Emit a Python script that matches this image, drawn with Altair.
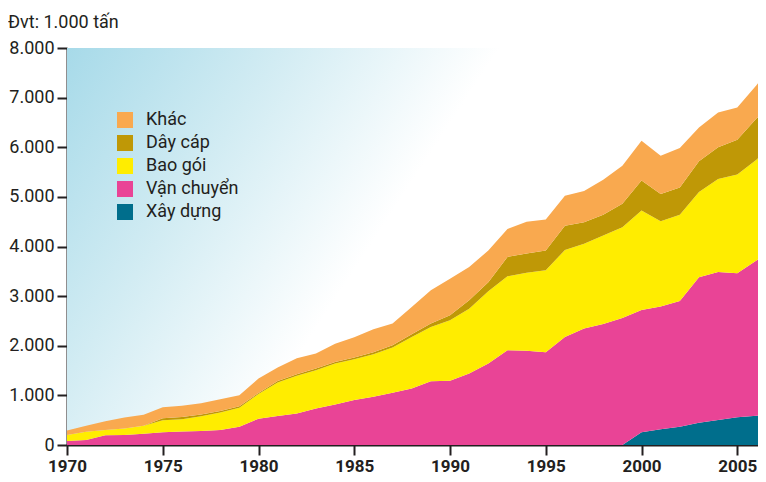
import altair as alt
import pandas as pd

# Years (x positions of the data points)
years = [1970, 1971, 1972, 1973, 1974, 1975, 1976, 1977, 1978, 1979,
         1980, 1981, 1982, 1983, 1984, 1985, 1986, 1987, 1988, 1989,
         1990, 1991, 1992, 1993, 1994, 1995, 1996, 1997, 1998, 1999,
         2000, 2001, 2002, 2003, 2004, 2005, 2006, 2006.5]

# Layer values (1.000 tấn), per category
xay_dung = [0, 0, 0, 0, 0, 0, 0, 0, 0, 0,
            0, 0, 0, 0, 0, 0, 0, 0, 0, 0,
            0, 0, 0, 0, 0, 0, 0, 0, 0, 0,
            255, 316, 370, 450, 505, 560, 590, 603]
van_chuyen = [80, 100, 195, 200, 225, 255, 270, 280, 300, 370,
              530, 583, 637, 737, 817, 905, 971, 1052, 1139, 1287,
              1293, 1441, 1641, 1910, 1900, 1870, 2177, 2350, 2440, 2560,
              2465, 2474, 2530, 2930, 2979, 2900, 3130, 3216]
bao_goi = [120, 167, 105, 135, 165, 245, 250, 300, 355, 380,
           500, 677, 757, 771, 824, 824, 858, 911, 1038, 1091,
           1220, 1306, 1459, 1490, 1570, 1650, 1753, 1704, 1781, 1829,
           2004, 1720, 1740, 1720, 1876, 1990, 2030, 2111]
day_cap = [0, 0, 0, 0, 0, 40, 45, 35, 30, 30,
           20, 30, 33, 33, 34, 33, 41, 47, 54, 68,
           100, 168, 180, 390, 390, 400, 490, 436, 420, 471,
           606, 550, 550, 620, 640, 700, 830, 804]
khac = [90, 123, 180, 220, 220, 220, 225, 225, 235, 225,
        290, 270, 323, 304, 365, 408, 460, 440, 549, 670,
        737, 670, 640, 565, 640, 623, 605, 630, 703, 768,
        800, 769, 796, 679, 700, 650, 670, 746]

categories = ["Khác", "Dây cáp", "Bao gói", "Vận chuyển", "Xây dựng"]
colors = ["#f9a94f", "#bf9806", "#ffed00", "#e94496", "#006e8c"]
series = {"Xây dựng": xay_dung, "Vận chuyển": van_chuyen, "Bao gói": bao_goi,
          "Dây cáp": day_cap, "Khác": khac}
stack_order = ["Xây dựng", "Vận chuyển", "Bao gói", "Dây cáp", "Khác"]

y_ticks = [0, 1000, 2000, 3000, 4000, 5000, 6000, 7000, 8000]
x_ticks = [1970, 1975, 1980, 1985, 1990, 1995, 2000, 2005]

rows = []
for name in stack_order:
    for yr, v in zip(years, series[name]):
        rows.append({"year": yr, "value": v, "cat": name, "ord": stack_order.index(name)})
df = pd.DataFrame(rows)

W, H = 699, 397
FONT = "Roboto"
INK = "#231f20"

bg = alt.Chart(alt.Data(values=[{"a": 1}])).mark_rect(
    fill=alt.Gradient(
        gradient="linear",
        stops=[alt.GradientStop(color="#a7dae9", offset=0),
               alt.GradientStop(color="#d2ecf3", offset=0.5),
               alt.GradientStop(color="#ffffff", offset=1)],
        x1=0, y1=0, x2=0.544, y2=0.202),
).encode(x=alt.value(0), x2=alt.value(W), y=alt.value(0), y2=alt.value(H))

area = alt.Chart(df).mark_area(interpolate="linear").encode(
    x=alt.X("year:Q", scale=alt.Scale(domain=[1970, 2006.5], nice=False, zero=False),
            axis=alt.Axis(values=x_ticks, format="d", title=None, labelFont=FONT,
                          labelFontSize=17, labelFontWeight="bold", labelColor=INK,
                          tickSize=10, tickWidth=2, tickColor=INK, domainColor=INK,
                          domainWidth=2, labelPadding=3, labelFlush=False, grid=False)),
    y=alt.Y("value:Q", stack="zero", scale=alt.Scale(domain=[0, 8000], nice=False),
            axis=alt.Axis(values=y_ticks, title=None, labelFont=FONT, labelFontSize=18,
                          labelColor=INK, tickSize=10, tickWidth=2, tickColor=INK,
                          domainColor=INK, domainWidth=2, labelPadding=3, grid=False,
                          labelFlush=False,
                          labelExpr="replace(format(datum.value, ','), ',', '.')")),
    color=alt.Color("cat:N", scale=alt.Scale(domain=categories, range=colors),
                    legend=alt.Legend(title=None, orient="none", legendX=49, legendY=63,
                                      symbolType="square", symbolSize=256,
                                      symbolStrokeWidth=0, symbolOpacity=1,
                                      labelFont=FONT, labelFontSize=18, labelColor=INK,
                                      labelOffset=12, rowPadding=5, padding=0)),
    order=alt.Order("ord:Q", sort="ascending"),
)

title = alt.Chart(alt.Data(values=[{"t": "Đvt: 1.000 tấn"}])).mark_text(
    align="left", baseline="alphabetic", font=FONT, fontSize=18, color=INK
).encode(text="t:N", x=alt.value(-59), y=alt.value(-20))

chart = alt.layer(bg, area, title).properties(
    width=W, height=H,
    autosize=alt.AutoSizeParams(type="none"),
    padding={"left": 59, "top": 40, "right": -8, "bottom": 29},
).configure_view(stroke=None).configure(background="white")

chart.save("out.html", embed_options={"renderer": "svg", "actions": False})
